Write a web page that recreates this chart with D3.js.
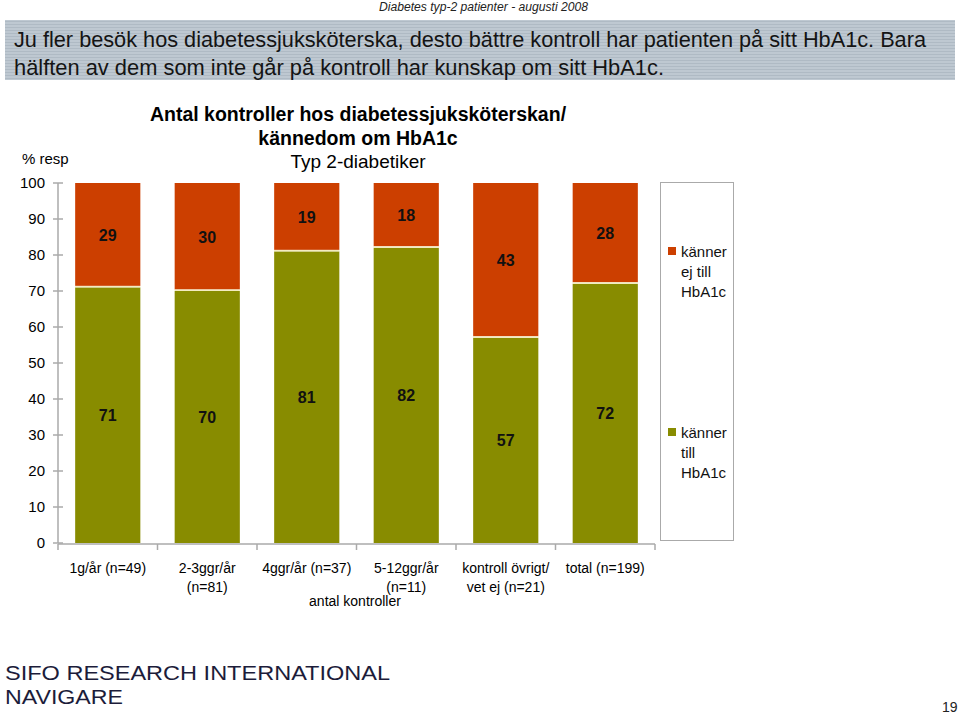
<!DOCTYPE html>
<html><head><meta charset="utf-8">
<script src="https://cdn.jsdelivr.net/npm/d3@7"></script>
<style>body{margin:0;background:#fff}svg{display:block;font-family:"Liberation Sans",Arial,sans-serif}</style>
</head><body>
<svg id="c" width="960" height="715"></svg>
<script>
const categories = [["1g/år (n=49)"],["2-3ggr/år","(n=81)"],["4ggr/år (n=37)"],["5-12ggr/år","(n=11)"],["kontroll övrigt/","vet ej (n=21)"],["total (n=199)"]];
const kannerTill = [71,70,81,82,57,72];
const kannerEj = [29,30,19,18,43,28];
const yTicks = [0,10,20,30,40,50,60,70,80,90,100];
const seriesNames = [["känner","till","HbA1c"],["känner","ej till","HbA1c"]];
const colors = ["#888C00","#CC3F00"];

const svg = d3.select("#c");
// header
svg.append("text").attr("x",379).attr("y",11).attr("font-size",12).attr("font-style","italic").attr("fill","#222").attr("textLength",209).attr("lengthAdjust","spacingAndGlyphs").text("Diabetes typ-2 patienter - augusti 2008");
const defs = svg.append("defs");
const pat = defs.append("pattern").attr("id","stripes").attr("width",4).attr("height",3).attr("patternUnits","userSpaceOnUse");
pat.append("rect").attr("width",4).attr("height",3).attr("fill","#BEC8D1");
pat.append("rect").attr("width",4).attr("height",1).attr("fill","#AFBAC4");
svg.append("rect").attr("x",5).attr("y",20).attr("width",950).attr("height",60).attr("fill","url(#stripes)");
svg.append("text").attr("x",14).attr("y",47).attr("font-size",22.5).attr("fill","#141414").attr("textLength",912).attr("lengthAdjust","spacingAndGlyphs").text("Ju fler besök hos diabetessjuksköterska, desto bättre kontroll har patienten på sitt HbA1c. Bara");
svg.append("text").attr("x",14).attr("y",75).attr("font-size",22.5).attr("fill","#141414").attr("textLength",650).attr("lengthAdjust","spacingAndGlyphs").text("hälften av dem som inte går på kontroll har kunskap om sitt HbA1c.");

// titles
svg.append("text").attr("x",358).attr("y",121).attr("text-anchor","middle").attr("font-size",19.5).attr("font-weight","bold").text("Antal kontroller hos diabetessjuksköterskan/");
svg.append("text").attr("x",358).attr("y",145).attr("text-anchor","middle").attr("font-size",19.5).attr("font-weight","bold").text("kännedom om HbA1c");
svg.append("text").attr("x",358).attr("y",168).attr("text-anchor","middle").attr("font-size",19).text("Typ 2-diabetiker");
svg.append("text").attr("x",22).attr("y",164).attr("font-size",15).text("% resp");

const x = d3.scaleBand().domain(d3.range(categories.length)).range([58,655]).paddingInner(0.345).paddingOuter(0.1725);
const y = d3.scaleLinear().domain([0,100]).range([543,183]);

// y axis
const ya = svg.append("g");
ya.append("line").attr("x1",58).attr("x2",58).attr("y1",183).attr("y2",543).attr("stroke","#aaaaaa").attr("stroke-width",1.5);
ya.selectAll("line.t").data(yTicks).join("line").attr("class","t").attr("x1",53).attr("x2",63).attr("y1",d=>y(d)).attr("y2",d=>y(d)).attr("stroke","#aaaaaa").attr("stroke-width",1.5);
ya.selectAll("text").data(yTicks).join("text").attr("x",45).attr("y",d=>y(d)+5).attr("text-anchor","end").attr("font-size",15).text(d=>d);

// bars
const stackData = categories.map((c,i)=>({i, a:kannerTill[i], b:kannerEj[i]}));
const g = svg.append("g");
stackData.forEach(d=>{
  g.append("rect").attr("x",x(d.i)).attr("width",x.bandwidth()).attr("y",y(d.a)).attr("height",y(0)-y(d.a)).attr("fill",colors[0]);
  g.append("rect").attr("x",x(d.i)).attr("width",x.bandwidth()).attr("y",y(d.a+d.b)).attr("height",y(d.a)-y(d.a+d.b)-1.5).attr("fill",colors[1]);
  g.append("rect").attr("x",x(d.i)).attr("width",x.bandwidth()).attr("y",y(d.a)-1.5).attr("height",1.5).attr("fill","#F3EBC0");
  g.append("text").attr("x",x(d.i)+x.bandwidth()/2).attr("y",y(d.a/2)+6).attr("text-anchor","middle").attr("font-size",16).attr("font-weight","bold").attr("fill","#111").text(d.a);
  g.append("text").attr("x",x(d.i)+x.bandwidth()/2).attr("y",y(d.a+d.b/2)+6).attr("text-anchor","middle").attr("font-size",16).attr("font-weight","bold").attr("fill","#111").text(d.b);
});

// x axis
const xa = svg.append("g");
xa.append("line").attr("x1",58).attr("x2",655).attr("y1",544).attr("y2",544).attr("stroke","#aaaaaa").attr("stroke-width",1.5);
xa.selectAll("line.t").data(d3.range(categories.length+1)).join("line").attr("class","t")
  .attr("x1",d=>58+d*(655-58)/categories.length).attr("x2",d=>58+d*(655-58)/categories.length).attr("y1",544).attr("y2",550).attr("stroke","#aaaaaa").attr("stroke-width",1.5);
categories.forEach((c,i)=>{
  const t = xa.append("text").attr("text-anchor","middle").attr("font-size",14);
  c.forEach((line,j)=>t.append("tspan").attr("x",x(i)+x.bandwidth()/2).attr("y",573+j*19).text(line));
});
svg.append("text").attr("x",355).attr("y",606).attr("text-anchor","middle").attr("font-size",14).text("antal kontroller");

// legend
svg.append("rect").attr("x",660.5).attr("y",182.5).attr("width",73).attr("height",358).attr("fill","none").attr("stroke","#aaaaaa");
const leg = [{c:colors[1],t:seriesNames[1],y:251},{c:colors[0],t:seriesNames[0],y:432}];
leg.forEach(l=>{
  svg.append("rect").attr("x",668).attr("y",l.y-4).attr("width",8).attr("height",8).attr("fill",l.c);
  const t = svg.append("text").attr("font-size",15).attr("fill","#111");
  l.t.forEach((s,j)=>t.append("tspan").attr("x",681).attr("y",l.y+6+j*20).text(s));
});

// footer
svg.append("text").attr("x",5).attr("y",680).attr("font-size",20).attr("fill","#1c1c3a").attr("textLength",385).attr("lengthAdjust","spacingAndGlyphs").text("SIFO RESEARCH INTERNATIONAL");
svg.append("text").attr("x",5).attr("y",704).attr("font-size",20).attr("fill","#1c1c3a").attr("textLength",118).attr("lengthAdjust","spacingAndGlyphs").text("NAVIGARE");
svg.append("text").attr("x",942).attr("y",712).attr("font-size",14).attr("fill","#222").text("19");
</script>
</body></html>
